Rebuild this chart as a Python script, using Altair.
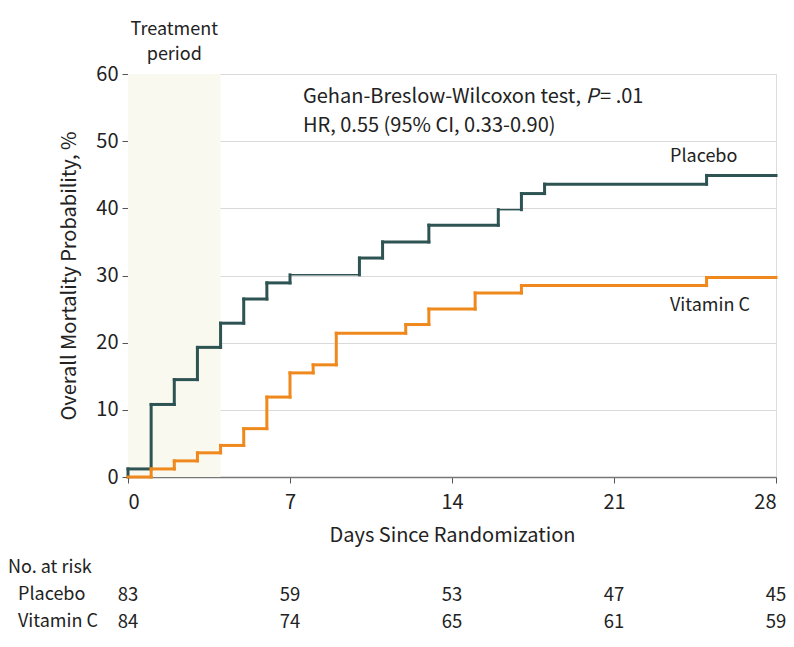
import altair as alt
import pandas as pd

# ---- data ----
placebo_days = [0, 0, 1, 2, 3, 4, 5, 6, 7, 10, 11, 13, 16, 17, 18, 25]
placebo_pct = [0, 1.2, 10.8, 14.5, 19.3, 22.9, 26.5, 28.9, 30.1, 32.6, 35.0, 37.5, 39.8, 42.2, 43.6, 44.9]
vitc_days = [0, 1, 2, 3, 4, 5, 6, 7, 8, 9, 12, 13, 15, 17, 25]
vitc_pct = [0, 1.2, 2.4, 3.6, 4.7, 7.2, 11.9, 15.5, 16.7, 21.4, 22.7, 25.0, 27.4, 28.5, 29.7]
end_day = 28
placebo_thin_from = [7, 16]   # horizontal pieces drawn thin in the reference

risk_days = [0, 7, 14, 21, 28]
risk_placebo = [83, 59, 53, 47, 45]
risk_vitc = [84, 74, 65, 61, 59]

treat_start, treat_end = 0, 4
x_ticks = [0, 7, 14, 21, 28]
y_ticks = [0, 10, 20, 30, 40, 50, 60]

TEAL = "#2e5353"
ORANGE = "#f0891d"
FONT = "Noto Sans CJK JP"


def step_segments(days, pct, name, thin_from):
    rows = []
    n = len(days)
    for i in range(n):
        t0 = days[i]
        t1 = days[i + 1] if i + 1 < n else end_day
        w = 1.5 if t0 in thin_from and t1 > t0 else 3
        if t1 > t0:
            rows.append(dict(series=name, x=t0, x2=t1, y=pct[i], y2=pct[i], w=w))
        if i + 1 < n:
            rows.append(dict(series=name, x=t1, x2=t1, y=pct[i], y2=pct[i + 1], w=3))
    return rows


seg = pd.DataFrame(step_segments(placebo_days, placebo_pct, "Placebo", placebo_thin_from)
                   + step_segments(vitc_days, vitc_pct, "Vitamin C", []))

xs = alt.Scale(domain=[0, 28], nice=False, zero=False)
ys = alt.Scale(domain=[0, 60], nice=False)

shade = alt.Chart(pd.DataFrame({"a": [treat_start], "b": [treat_end], "lo": [0], "hi": [60]})).mark_rect(
    color="#f9f9f0"
).encode(
    x=alt.X("a:Q", scale=xs, axis=alt.Axis(values=x_ticks, grid=False, title="Days Since Randomization",
                                           labelFontSize=20, titleFontSize=20, titlePadding=13,
                                           tickSize=6, labelPadding=9, domainColor="#777", tickColor="#555",
                                           domainWidth=1.5, labelColor="#222", titleColor="#222",
                                           titleFontWeight="normal", labelFont=FONT, titleFont=FONT)),
    x2="b:Q",
    y=alt.Y("lo:Q", scale=ys, axis=alt.Axis(values=y_ticks, grid=True, gridColor="#d9d9d9",
                                            title="Overall Mortality Probability, %",
                                            labelFontSize=20, titleFontSize=20, titlePadding=16,
                                            tickSize=6, labelPadding=4, domainColor="#555", tickColor="#555",
                                            labelColor="#222", titleColor="#222",
                                            titleFontWeight="normal", labelFont=FONT, titleFont=FONT)),
    y2="hi:Q",
)

curves = alt.Chart(seg).mark_rule(strokeCap="square").encode(
    x=alt.X("x:Q", scale=xs),
    x2="x2:Q",
    y=alt.Y("y:Q", scale=ys),
    y2="y2:Q",
    color=alt.Color("series:N", scale=alt.Scale(domain=["Placebo", "Vitamin C"], range=[TEAL, ORANGE]),
                    legend=None),
    strokeWidth=alt.StrokeWidth("w:Q", scale=None),
)

treat_txt = alt.Chart(pd.DataFrame({"t": ["Treatment", "period"], "day": [2, 2], "py": [-44, -19]})).mark_text(
    font=FONT, fontSize=18, color="#222", baseline="middle", align="center"
).encode(x=alt.X("day:Q", scale=xs), y=alt.Y("py:Q", scale=None), text="t:N")

annot = alt.Chart(pd.DataFrame({
    "t": ["Gehan-Breslow-Wilcoxon test,", "HR, 0.55 (95% CI, 0.33-0.90)"],
    "day": [7.56, 7.56], "v": [56.65, 52.25]})).mark_text(
    font=FONT, fontSize=20, color="#222", baseline="middle", align="left"
).encode(x=alt.X("day:Q", scale=xs), y=alt.Y("v:Q", scale=ys), text="t:N")

annot_p = alt.Chart(pd.DataFrame({"t": ["P"], "day": [19.78], "v": [56.65]})).mark_text(
    font=FONT, fontSize=20, color="#222", baseline="middle", align="left", fontStyle="italic"
).encode(x=alt.X("day:Q", scale=xs), y=alt.Y("v:Q", scale=ys), text="t:N")

annot_p2 = alt.Chart(pd.DataFrame({"t": ["= .01"], "day": [20.4], "v": [56.65]})).mark_text(
    font=FONT, fontSize=20, color="#222", baseline="middle", align="left"
).encode(x=alt.X("day:Q", scale=xs), y=alt.Y("v:Q", scale=ys), text="t:N")

labels = alt.Chart(pd.DataFrame({"t": ["Placebo", "Vitamin C"], "day": [23.42, 23.42], "v": [47.7, 25.4]})).mark_text(
    font=FONT, fontSize=18, color="#222", baseline="middle", align="left"
).encode(x=alt.X("day:Q", scale=xs), y=alt.Y("v:Q", scale=ys), text="t:N")

risk_df = pd.DataFrame({
    "day": risk_days * 2,
    "n": [str(v) for v in risk_placebo] + [str(v) for v in risk_vitc],
    "py": [521] * len(risk_days) + [548] * len(risk_days),
})
risk = alt.Chart(risk_df).mark_text(
    font=FONT, fontSize=18.5, color="#222", baseline="middle", align="center"
).encode(x=alt.X("day:Q", scale=xs), y=alt.Y("py:Q", scale=None), text="n:N")

risk_lab = alt.Chart(pd.DataFrame({"t": ["No. at risk", "Placebo", "Vitamin C"],
                                   "px": [-120, -110, -110], "py": [494, 521, 548]})).mark_text(
    font=FONT, fontSize=18, color="#222", baseline="middle", align="left"
).encode(x=alt.X("px:Q", scale=None), y=alt.Y("py:Q", scale=None), text="t:N")

chart = alt.layer(shade, curves, treat_txt, annot, annot_p, annot_p2, labels, risk, risk_lab).properties(
    width=648, height=403,
    autosize=alt.AutoSizeParams(type="none"),
    padding={"left": 120, "top": 66, "right": 10, "bottom": 160},
).configure_view(stroke=None).configure(background="white")

chart.save("out.html", embed_options={"renderer": "svg", "actions": False})
